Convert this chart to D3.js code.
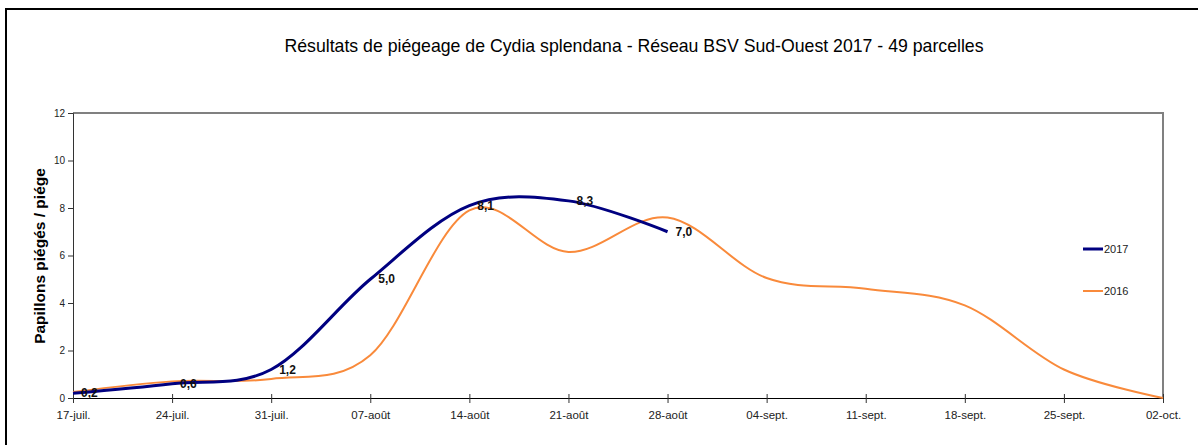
<!DOCTYPE html>
<html><head><meta charset="utf-8">
<script src="https://cdn.jsdelivr.net/npm/d3@7"></script>
<style>body{margin:0;background:#fff;}svg{display:block;font-family:"Liberation Sans",Arial,sans-serif;}</style>
</head><body>
<svg id="c" width="1198" height="445"></svg>
<script>
const weeks = ["17-juil.","24-juil.","31-juil.","07-août","14-août","21-août","28-août","04-sept.","11-sept.","18-sept.","25-sept.","02-oct."];
const values2017 = [0.2, 0.6, 1.2, 5.0, 8.1, 8.3, 7.0];
const values2016 = [0.25, 0.7, 0.8, 1.8, 7.9, 6.15, 7.6, 5.05, 4.6, 3.9, 1.2, 0];
const yTicks = [0, 2, 4, 6, 8, 10, 12];
const seriesNames = ["2017", "2016"];
const seriesColors = ["#000080", "#F98A3B"];
const title = "Résultats de piégeage de Cydia splendana - Réseau BSV Sud-Ouest 2017 - 49 parcelles";
const yTitle = "Papillons piégés / piége";

const svg = d3.select("#c");
const L = 73, R = 1163, T = 113, B = 398;
const x = d3.scaleLinear().domain([0, weeks.length - 1]).range([L, R]);
const y = d3.scaleLinear().domain([0, 12]).range([B, T]);

// outer frame
svg.append("rect").attr("x", 6).attr("y", 9).attr("width", 1250).attr("height", 500)
  .attr("fill", "none").attr("stroke", "#000").attr("stroke-width", 2);

// title
svg.append("text").attr("x", 634).attr("y", 52).attr("text-anchor", "middle")
  .attr("font-size", 17.7).attr("fill", "#000").text(title);

// plot frame (top/right)
svg.append("path").attr("d", `M${L},${T}H${R}V${B}`).attr("fill", "none")
  .attr("stroke", "#808080").attr("stroke-width", 2);

// y axis
const yAxis = d3.axisLeft(y).tickValues(yTicks).tickSize(5).tickPadding(3).tickFormat(d3.format("d"));
const gy = svg.append("g").attr("transform", `translate(${L},0)`).call(yAxis);
gy.select(".domain").attr("stroke", "#333");
gy.selectAll(".tick line").attr("stroke", "#333");
gy.selectAll(".tick text").attr("font-size", 10).attr("fill", "#222").attr("font-family", "Liberation Sans, Arial, sans-serif");

// x axis
const xAxis = d3.axisBottom(x).tickValues(d3.range(weeks.length)).tickFormat(i => weeks[i]).tickSize(5).tickPadding(8);
const gx = svg.append("g").attr("transform", `translate(0,${B})`).call(xAxis);
gx.select(".domain").attr("stroke", "#000");
gx.selectAll(".tick line").attr("stroke", "#333").attr("y1", -4);
gx.selectAll(".tick text").attr("font-size", 11.5).attr("fill", "#222").attr("font-family", "Liberation Sans, Arial, sans-serif");

// y title
svg.append("text").attr("transform", `translate(45,256) rotate(-90)`).attr("text-anchor", "middle")
  .attr("font-size", 15.5).attr("font-weight", "bold").attr("fill", "#000").text(yTitle);

const line = d3.line().x((d, i) => x(i)).y(d => y(d)).curve(d3.curveCardinal.tension(0));

svg.append("path").datum(values2016).attr("d", line).attr("fill", "none")
  .attr("stroke", seriesColors[1]).attr("stroke-width", 2);
svg.append("path").datum(values2017).attr("d", line).attr("fill", "none")
  .attr("stroke", seriesColors[0]).attr("stroke-width", 3);

// data labels 2017
svg.append("g").selectAll("text").data(values2017).join("text")
  .attr("x", (d, i) => x(i) + 8).attr("y", d => y(d)).attr("dy", "0.35em")
  .attr("font-size", 12).attr("font-weight", "bold").attr("fill", "#111")
  .text(d => d3.format(".1f")(d).replace(".", ","));

// legend
const lg = svg.append("g");
[249, 291].forEach((ly, k) => {
  lg.append("line").attr("x1", 1083).attr("x2", 1103).attr("y1", ly).attr("y2", ly)
    .attr("stroke", seriesColors[k]).attr("stroke-width", k === 0 ? 3 : 2);
  lg.append("text").attr("x", 1104).attr("y", ly).attr("dy", "0.35em")
    .attr("font-size", 11).attr("fill", "#222").text(seriesNames[k]);
});
</script>
</body></html>
